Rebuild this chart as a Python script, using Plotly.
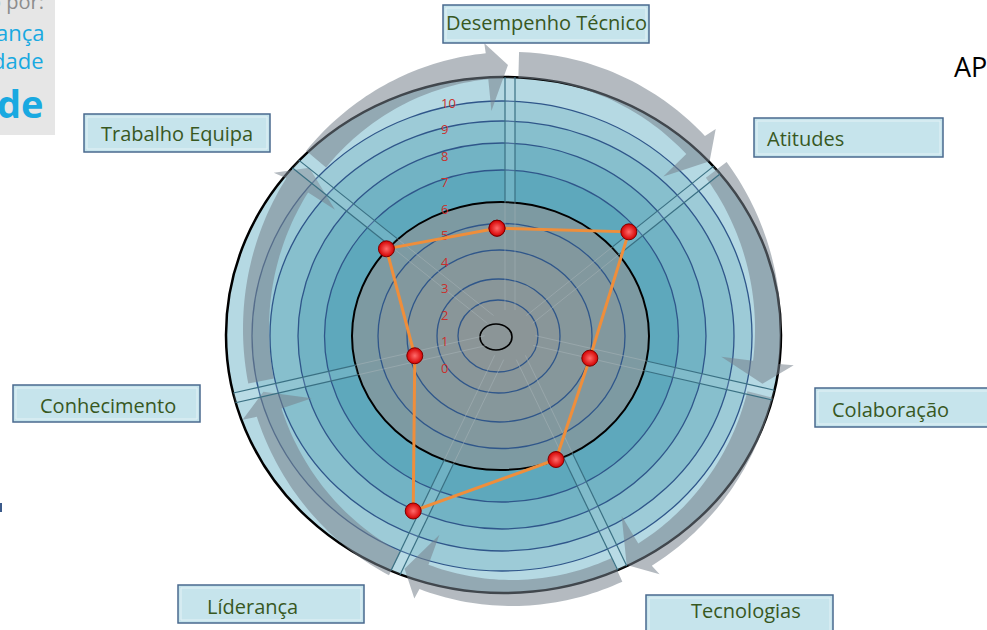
import numpy as np
import plotly.graph_objects as go

W, H = 987, 630

# ---------------- data ----------------
categories = ["Desempenho Técnico", "Atitudes", "Colaboração", "Tecnologias",
              "Líderança", "Conhecimento", "Trabalho Equipa"]
scores = [5.2, 7.4, 4.7, 6.2, 8.3, 4.3, 6.4]
tick_values = list(range(0, 11))
tick_labels = [str(v) for v in tick_values]

# ---------------- geometry / style ----------------
def PX(x):
    return x / W


def PY(y):
    return 1 - y / H


CX, CY = 497, 337        # radar centre (px)
SCALE = 27.2             # px per unit on radial axis
R0 = 1.2                 # radial value at the centre
RMAX = 11.5
R_PX = (RMAX - R0) * SCALE

shapes = []


def ellipse(cx, cy, rx, ry, fill, lc, lw):
    shapes.append(dict(type="circle", xref="paper", yref="paper", layer="below",
                       x0=PX(cx - rx), x1=PX(cx + rx), y0=PY(cy + ry), y1=PY(cy - ry),
                       fillcolor=fill, line=dict(color=lc, width=lw)))


def poly(pts, fill, lc="rgba(0,0,0,0)", lw=0):
    path = "M " + " L ".join(f"{PX(x):.5f},{PY(y):.5f}" for x, y in pts) + " Z"
    shapes.append(dict(type="path", xref="paper", yref="paper", layer="below",
                       path=path, fillcolor=fill, line=dict(color=lc, width=lw)))


def seg(p, q, color, width):
    shapes.append(dict(type="line", xref="paper", yref="paper", layer="below",
                       x0=PX(p[0]), y0=PY(p[1]), x1=PX(q[0]), y1=PY(q[1]),
                       line=dict(color=color, width=width)))


def rect(x0, y0, x1, y1, fill, lc, lw):
    shapes.append(dict(type="rect", xref="paper", yref="paper", layer="below",
                       x0=PX(x0), x1=PX(x1), y0=PY(y1), y1=PY(y0),
                       fillcolor=fill, line=dict(color=lc, width=lw)))


NAVY = "#2f568a"
# disc bands (outer -> inner)
ellipse(503.5, 335, 277.5, 258, "#b5d9e3", "black", 2.5)
ellipse(502, 336, 250, 235, "#9dcbd7", NAVY, 1.3)
ellipse(502, 336, 232, 215, "#87bfcd", NAVY, 1.3)
ellipse(502, 336, 204, 193, "#72b3c4", NAVY, 1.3)
ellipse(501.5, 336, 177, 166, "#5ea8bc", NAVY, 1.3)
ellipse(500.5, 336, 148.5, 134, "#7d9aa2", "black", 2)
ellipse(501.5, 336, 123.5, 112.5, "#82989e", NAVY, 1.3)
ellipse(499.5, 336, 92.5, 86, "#86979b", NAVY, 1.3)
ellipse(498.5, 336, 61.5, 57, "#899699", NAVY, 1.3)
ellipse(498, 336, 40, 36, "#8b9597", NAVY, 1.3)
ellipse(496, 337, 16, 13, "rgba(0,0,0,0)", "black", 1.6)

# circular arrows (decoration)
ACX, ACY = 512, 329
A_OUT, A_IN = (269, 277), (243, 251)
H_OUT, H_IN, A_MID = (284, 287), (211, 219), (256, 264)
STEP = 360 / 7


def ept(rr, a):
    t = np.radians(a)
    return (ACX + rr[0] * np.cos(t), ACY - rr[1] * np.sin(t))


for k in range(7):
    phi = 90 - k * STEP
    start, end = phi + STEP - 1.5, phi + 5.6
    arc = np.linspace(start, end, 40)
    pts = [ept(A_OUT, a) for a in arc]
    pts += [ept(H_OUT, end), ept(A_MID, phi + 0.9), ept(H_IN, end)]
    pts += [ept(A_IN, a) for a in arc[::-1]]
    poly(pts, "rgba(118,130,140,0.55)")


# spokes (double lines)
SCX, SCY = 510, 335


def hit(ex, ey, rx, ry, c, u):
    # distance s along c+s*u to ellipse boundary
    dx, dy = c[0] - ex, c[1] - ey
    a = (u[0] / rx) ** 2 + (u[1] / ry) ** 2
    b = 2 * (dx * u[0] / rx ** 2 + dy * u[1] / ry ** 2)
    cc = (dx / rx) ** 2 + (dy / ry) ** 2 - 1
    return (-b + np.sqrt(b * b - 4 * a * cc)) / (2 * a)


for k in range(7):
    phi = np.radians(90 - k * STEP)
    u = np.array([np.cos(phi), -np.sin(phi)])
    perp = np.array([np.sin(phi), np.cos(phi)])
    c = np.array([SCX, SCY])
    s_in = hit(500.5, 336, 148.5, 134, c, u)
    s_out = hit(503.5, 335, 277.5, 258, c, u)
    a1, a2 = c + u * s_in - perp * 5, c + u * s_out - perp * 5
    b1, b2 = c + u * s_in + perp * 5, c + u * s_out + perp * 5
    poly([a1, a2, b2, b1], "rgba(205,232,240,0.15)")
    for d in (-5, 5):
        p0 = c + u * 25 + perp * d
        p1 = c + u * s_in + perp * d
        p2 = c + u * s_out + perp * d
        seg(p0, p1, "rgba(170,182,186,0.5)", 1)
        seg(p1, p2, "#3a7083", 1.2)

# label boxes
label_boxes = {
    "Desempenho Técnico": (443, 5, 649, 43, "center", 546),
    "Atitudes": (754, 118, 943, 157, "left", 765),
    "Colaboração": (815, 388, 1000, 427, "left", 830),
    "Tecnologias": (646, 595, 833, 640, "center", 746),
    "Líderança": (178, 585, 364, 623, "left", 205),
    "Conhecimento": (13, 385, 200, 422, "left", 38),
    "Trabalho Equipa": (84, 114, 270, 152, "left", 99),
}
label_cy = {"Desempenho Técnico": 23, "Atitudes": 138, "Colaboração": 409,
            "Tecnologias": 610, "Líderança": 606, "Conhecimento": 405,
            "Trabalho Equipa": 133}

annotations = []
for name in categories:
    x0, y0, x1, y1, al, tx = label_boxes[name]
    rect(x0, y0, x1, y1, "#c6e4ec", "#4a6a8e", 1.5)
    rect(x0 + 3, y0 + 3, x1 - 3, y1 - 3, "rgba(0,0,0,0)", "#e4f2f6", 1)
    annotations.append(dict(xref="paper", yref="paper", x=PX(tx), y=PY(label_cy[name]),
                            xanchor=al, yanchor="middle", text=name, showarrow=False,
                            font=dict(family="Open Sans", size=20, color="#38581f")))

# logo fragment top-left
rect(-2, -2, 55, 135, "#e6e6e6", "rgba(0,0,0,0)", 0)
for txt, cy, sz, col, bold in [("o por:", 2, 20, "#8d8d8d", False),
                                ("ança", 32, 22, "#19a9e1", False),
                                ("dade", 60, 22, "#19a9e1", False),
                                ("de", 103, 38, "#19a9e1", True)]:
    annotations.append(dict(xref="paper", yref="paper", x=PX(46), y=PY(cy),
                            xanchor="right", yanchor="middle",
                            text=f"<b>{txt}</b>" if bold else txt, showarrow=False,
                            font=dict(family="Open Sans", size=sz, color=col)))
annotations.append(dict(xref="paper", yref="paper", x=PX(952), y=PY(67),
                        xanchor="left", yanchor="middle", text="AP", showarrow=False,
                        font=dict(family="Open Sans", size=27, color="black")))
rect(-2, 503, 2, 512, "#3b5a8a", "rgba(0,0,0,0)", 0)

# ---------------- traces ----------------
fig = go.Figure()
fig.add_trace(go.Scatter(x=[0.5] * len(tick_values), y=tick_values, mode="markers",
                         marker=dict(opacity=0), showlegend=False, hoverinfo="skip"))
fig.add_trace(go.Scatterpolar(
    r=scores + scores[:1], theta=categories + categories[:1],
    mode="lines+markers",
    line=dict(color="#ef8e3b", width=3),
    marker=dict(size=16, color="#d40000", line=dict(color="#7d0000", width=1),
                gradient=dict(type="radial", color="#ff6b6b")),
    subplot="polar", showlegend=False, hoverinfo="skip"))

fig.update_layout(
    width=W, height=H, margin=dict(l=0, r=0, t=0, b=0),
    paper_bgcolor="white", plot_bgcolor="rgba(0,0,0,0)",
    xaxis=dict(domain=[0, 1], range=[0, 1], visible=False, fixedrange=True),
    yaxis=dict(domain=[0, 1], range=[-(H - 368) / 26.5, 368 / 26.5], anchor="free",
               position=PX(440), side="right", tickvals=tick_values, ticktext=tick_labels,
               showgrid=False, zeroline=False, showline=False, ticks="", fixedrange=True,
               tickfont=dict(color="#c9302c", size=13, family="Open Sans")),
    polar=dict(domain=dict(x=[PX(CX - R_PX), PX(CX + R_PX)], y=[PY(CY + R_PX), PY(CY - R_PX)]),
               bgcolor="rgba(0,0,0,0)",
               radialaxis=dict(range=[R0, RMAX], visible=False),
               angularaxis=dict(type="category", categoryarray=categories, rotation=90,
                                direction="clockwise", visible=False)),
    shapes=shapes, annotations=annotations,
)

fig.write_html("out.html", config={"displayModeBar": False},
               post_script="document.body.style.margin='0';document.body.style.overflow='hidden';")
